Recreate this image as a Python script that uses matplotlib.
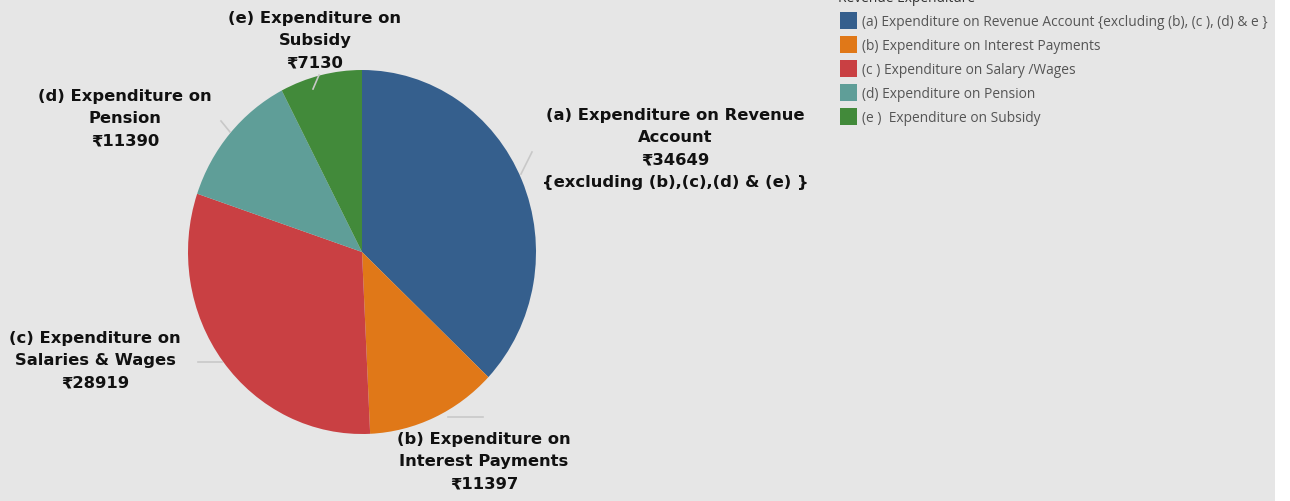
import numpy as np
import matplotlib.pyplot as plt
from matplotlib.patches import Rectangle

# data
categories = ['(a) Expenditure on Revenue Account {excluding (b), (c ), (d) & e }',
              '(b) Expenditure on Interest Payments',
              '(c ) Expenditure on Salary /Wages',
              '(d) Expenditure on Pension',
              '(e )  Expenditure on Subsidy']
values = [34649, 11397, 28919, 11390, 7130]
slice_labels = ['(a) Expenditure on Revenue\nAccount\n\u20b9{v}\n{{excluding (b),(c),(d) & (e) }}',
                '(b) Expenditure on\nInterest Payments\n\u20b9{v}',
                '(c) Expenditure on\nSalaries & Wages\n\u20b9{v}',
                '(d) Expenditure on\nPension\n\u20b9{v}',
                '(e) Expenditure on\nSubsidy\n\u20b9{v}']
colors = ['#355f8d', '#e07818', '#c94043', '#5f9e98', '#428a3a']

W, H = 1290, 502
fig = plt.figure(figsize=(W / 100, H / 100), dpi=100)
fig.patch.set_facecolor('white')

# background axes in pixel units
ax = fig.add_axes([0, 0, 1, 1])
ax.set_xlim(0, W)
ax.set_ylim(0, H)
ax.axis('off')
ax.add_patch(Rectangle((0, 0), 1275, H, facecolor='#e6e6e6', edgecolor='none', zorder=0))

# pie axes, slightly stretched vertically like the screenshot
sy = 182 / 174
pax = fig.add_axes([0, 0, 1, 1], zorder=1)
pax.patch.set_alpha(0)
cx, cy, R = 362, (H - 253) / sy, 174
pax.pie(values, colors=colors, startangle=90, counterclock=False,
        center=(cx, cy), radius=R, frame=True,
        wedgeprops=dict(linewidth=0))
pax.set_aspect('auto')
pax.set_xlim(0, W)
pax.set_ylim(0, H / sy)
pax.axis('off')

# label anchors (pixel coords from top) and leader segments
label_pos = [(675, 117), (484, 441), (95, 340), (125, 98), (315, 20)]
leaders = [((521, 175), (532, 153)),
           ((448, 418), (483, 418)),
           ((222, 363), (198, 363)),
           ((230, 133), (221, 122)),
           ((313, 90), (319, 76))]

tax = fig.add_axes([0, 0, 1, 1], zorder=2)
tax.set_xlim(0, W)
tax.set_ylim(0, H)
tax.axis('off')

lab_font = dict(family=['DejaVu Sans'], fontweight='bold', fontsize=11.8,
                color='#111111')
for i, (lbl, (x, y)) in enumerate(zip(slice_labels, label_pos)):
    tax.text(x, H - y + 9, lbl.format(v=values[i]), ha='center', va='top',
             linespacing=1.6, **lab_font)
for (x0, y0), (x1, y1) in leaders:
    tax.plot([x0, x1], [H - y0, H - y1], color='#c8c8c8', lw=1.2)

# legend
tax.text(838, H + 1, 'Revenue Expenditure', ha='left', va='center',
         fontsize=9.9, color='#333333', family=['Open Sans', 'DejaVu Sans'])
for i, (cat, col) in enumerate(zip(categories, colors)):
    yy = H - (21 + 24 * i)
    tax.add_patch(Rectangle((839.5, yy - 8.5), 17, 17, facecolor=col, edgecolor='none'))
    tax.text(862, yy - 1.5, cat, ha='left', va='center', fontsize=9.9, color='#555555',
             family=['Open Sans', 'DejaVu Sans'])

fig.savefig('out.png', dpi=100)
